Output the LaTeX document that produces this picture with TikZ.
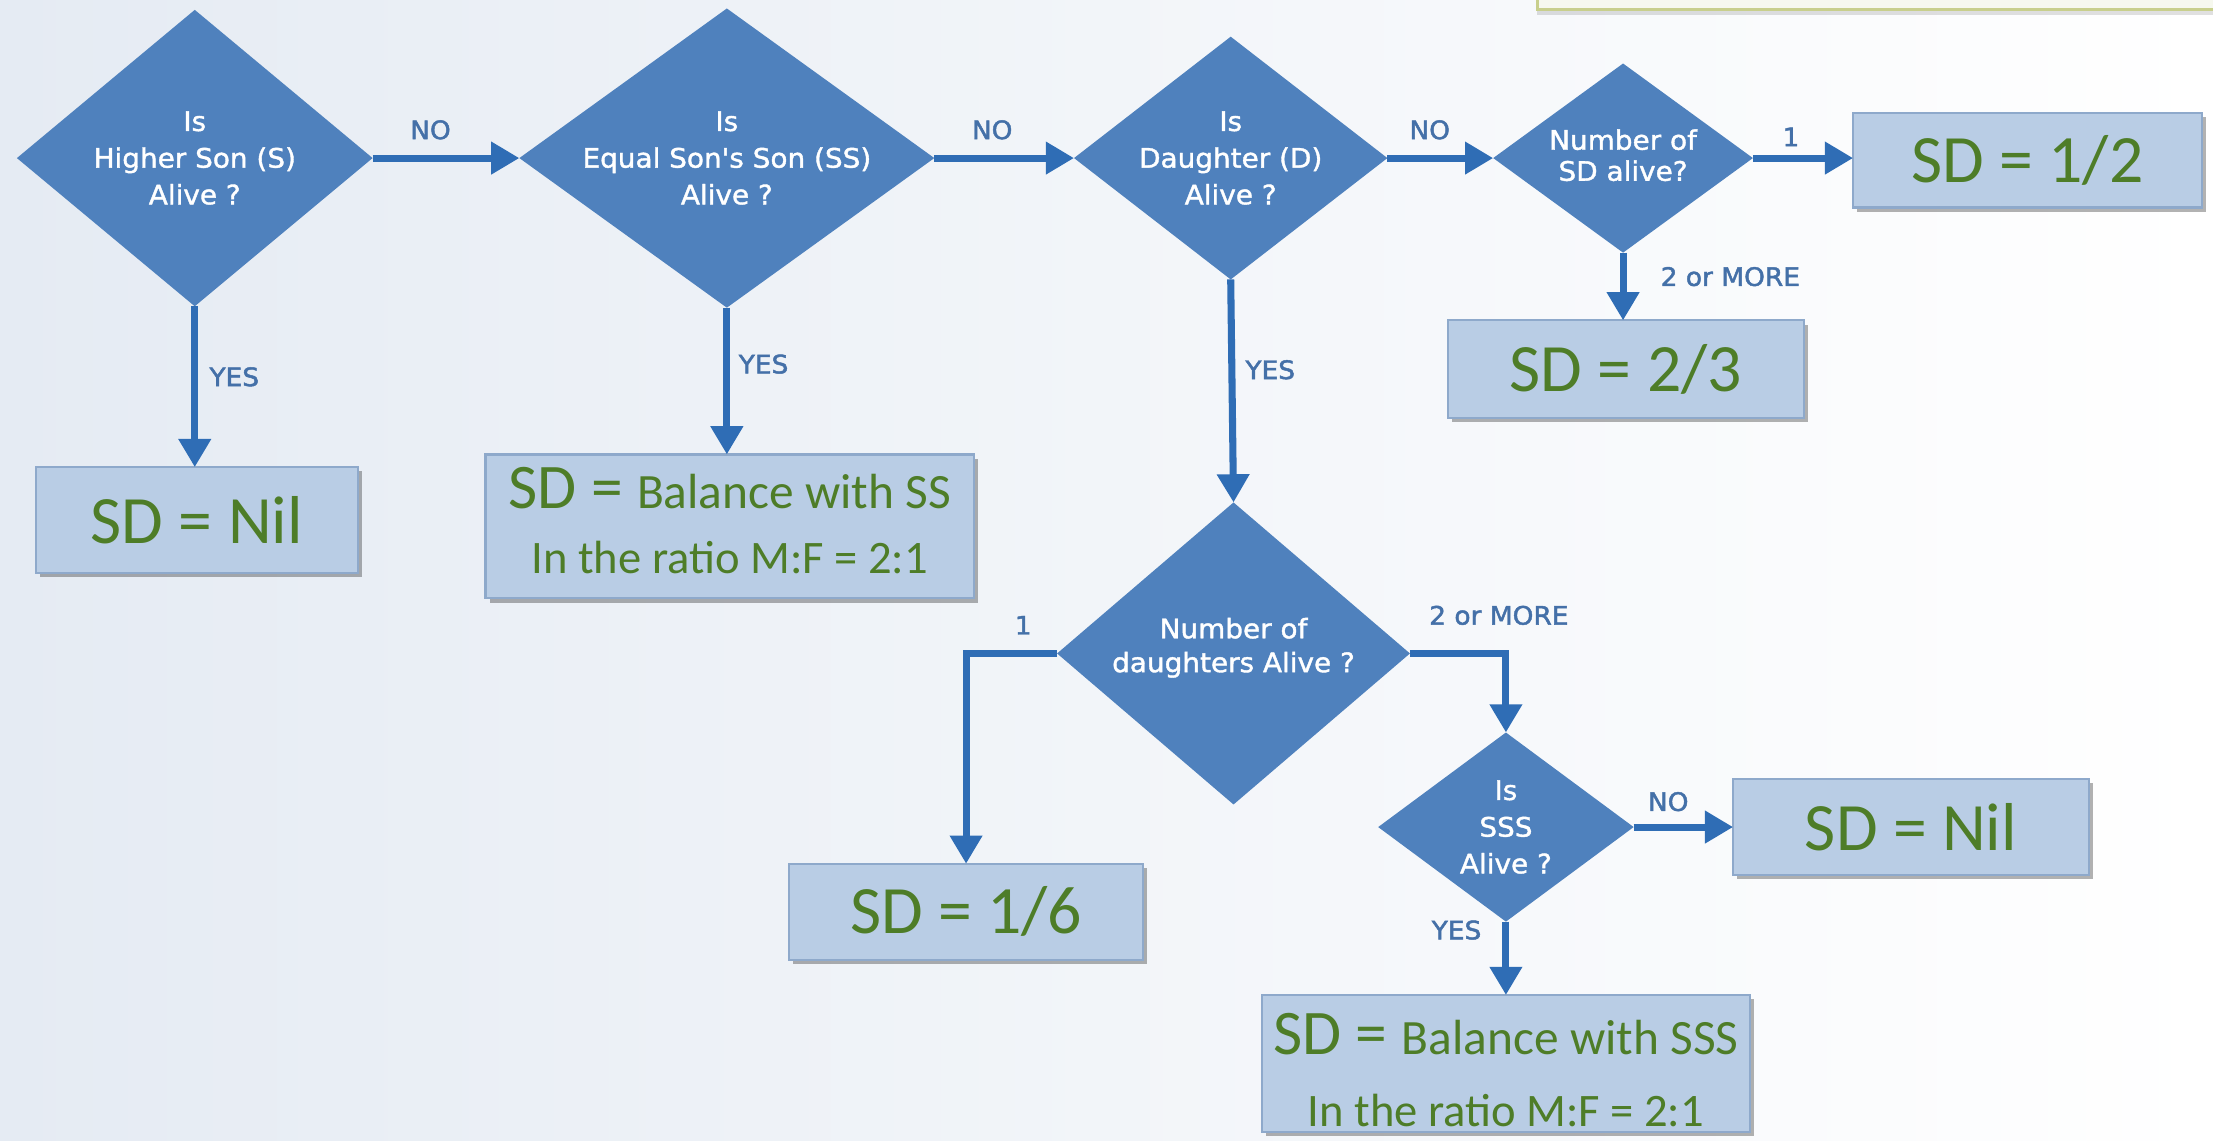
\documentclass[tikz,border=0pt]{standalone}
\usepackage{fontspec}
\usetikzlibrary{arrows.meta,shapes.geometric,shadows}
\newfontfamily\dfont[FakeStretch=1.04,FakeBold=1.4]{DejaVu Sans}
\newfontfamily\lfont[FakeStretch=1.04,FakeBold=1.8]{DejaVu Sans}
\newfontfamily\bfont{Carlito}
\definecolor{dblue}{HTML}{4F81BD}
\definecolor{ablue}{HTML}{2F6DB5}
\definecolor{lblue}{HTML}{4470A8}
\definecolor{boxfill}{HTML}{B9CDE5}
\definecolor{boxline}{HTML}{8EA9CB}
\definecolor{tgreen}{HTML}{4E7D28}
\definecolor{bgleft}{HTML}{E5EBF3}
\definecolor{stripfill}{HTML}{F6F8EE}
\definecolor{stripline}{HTML}{C8CF8C}
\begin{document}
\begin{tikzpicture}[x=1pt,y=-1pt,
  dia/.style={shape=diamond, fill=dblue, draw=none, inner sep=0pt, outer sep=0pt},
  dtext/.style={font=\dfont\fontsize{19}{26}\selectfont, text=white, align=center, inner sep=0pt},
  lab/.style={font=\lfont\fontsize{18}{20}\selectfont, text=lblue, inner sep=0pt},
  box/.style={draw=boxline, line width=1.5pt, fill=boxfill, inner sep=0pt, outer sep=0pt,
    drop shadow={shadow xshift=3pt, shadow yshift=-3pt, fill=black, opacity=0.3}},
  btext/.style={font=\bfont\fontsize{48}{50}\selectfont, text=tgreen},
  bline/.style={inner sep=0pt, text=tgreen, anchor=base},
  arr/.style={draw=ablue, line width=5pt, -{Triangle[length=20pt,width=22pt]}},
  strip/.style={draw=stripline, fill=stripfill, line width=2.5pt,
    drop shadow={shadow xshift=0pt, shadow yshift=-4pt, fill=black, opacity=0.12}},
]
\useasboundingbox (0,0) rectangle (1568,808);
\fill[left color=bgleft, right color=white] (0,0) rectangle (1568,808);

% partial box at top right
\node[strip, minimum width=490pt, minimum height=40pt, anchor=south west] (tb) at (1088,8) {};

% diamonds
\node[dia, minimum width=252pt, minimum height=210pt] (d1) at (138,112) {};
\node[dia, minimum width=294pt, minimum height=212pt] (d2) at (515,112) {};
\node[dia, minimum width=222pt, minimum height=172pt] (d3) at (872,112) {};
\node[dia, minimum width=184pt, minimum height=134pt] (d4) at (1150,112) {};
\node[dia, minimum width=250pt, minimum height=214pt] (d5) at (874,463) {};
\node[dia, minimum width=181pt, minimum height=134pt] (d6) at (1067,586) {};

\node[dtext] (d1t) at (d1.center) {Is\\Higher Son (S)\\Alive ?};
\node[dtext] (d2t) at (d2.center) {Is\\Equal Son's Son (SS)\\Alive ?};
\node[dtext] (d3t) at (d3.center) {Is\\Daughter (D)\\Alive ?};
\node[dtext, font=\dfont\fontsize{19}{22}\selectfont] (d4t) at ([yshift=2pt]d4.center) {Number of\\SD alive?};
\node[dtext, font=\dfont\fontsize{19}{24}\selectfont] (d5t) at ([yshift=4pt]d5.center) {Number of\\daughters Alive ?};
\node[dtext] (d6t) at (d6.center) {Is\\SSS\\Alive ?};

% boxes
\node[box, btext, minimum width=228pt, minimum height=75pt] (nil1) at (139.5,368.5) {SD = Nil};
\node[box, minimum width=346pt, minimum height=102pt] (ss) at (517,373) {};
\node[bline] (ss1) at (517,360) {{\bfont\fontsize{45}{45}\selectfont SD = }{\bfont\fontsize{35}{35}\selectfont Balance with SS}};
\node[bline] (ss2) at (517,406) {\bfont\fontsize{33}{33}\selectfont In the ratio M:F = 2:1};
\node[box, btext, minimum width=247pt, minimum height=67pt] (half) at (1436.5,113.5) {SD = 1/2};
\node[box, btext, minimum width=252pt, minimum height=69pt] (two3) at (1152,261.5) {SD = 2/3};
\node[box, btext, minimum width=251pt, minimum height=68pt] (sixth) at (684.5,646) {SD = 1/6};
\node[box, btext, minimum width=252pt, minimum height=68pt] (nil2) at (1354,586) {SD = Nil};
\node[box, minimum width=346pt, minimum height=97pt] (sss) at (1067,753.5) {};
\node[bline] (sss1) at (1067,747) {{\bfont\fontsize{45}{45}\selectfont SD = }{\bfont\fontsize{35}{35}\selectfont Balance with SSS}};
\node[bline] (sss2) at (1067,798) {\bfont\fontsize{33}{33}\selectfont In the ratio M:F = 2:1};

% connectors
\draw[arr] (d1.east) -- (d2.west);
\draw[arr] (d2.east) -- (d3.west);
\draw[arr] (d3.east) -- (d4.west);
\draw[arr] (d4.east) -- (d4.east -| half.west);
\draw[arr] (d4.south) -- (d4.south |- two3.north);
\draw[arr] (d1.south) -- (d1.south |- nil1.north);
\draw[arr] (d2.south) -- (d2.south |- ss.north);
\draw[arr] (d3.south) -- (d5.north);
\draw[arr] (d5.west) -| (sixth.north);
\draw[arr] (d5.east) -| (d6.north);
\draw[arr] (d6.east) -- (d6.east -| nil2.west);
\draw[arr] (d6.south) -- (d6.south |- sss.north);

% labels
\node[lab] (no1) at (305,92) {NO};
\node[lab] (no2) at (703,92) {NO};
\node[lab] (no3) at (1013,92) {NO};
\node[lab] (one1) at (1269,97) {1};
\node[lab] (yes1) at (166,267) {YES};
\node[lab] (yes2) at (541,258) {YES};
\node[lab] (yes3) at (900,262) {YES};
\node[lab] (more1) at (1226,196) {2 or MORE};
\node[lab] (one2) at (725,443) {1};
\node[lab] (more2) at (1062,436) {2 or MORE};
\node[lab] (no4) at (1182,568) {NO};
\node[lab] (yes4) at (1032,659) {YES};
\end{tikzpicture}
\end{document}
